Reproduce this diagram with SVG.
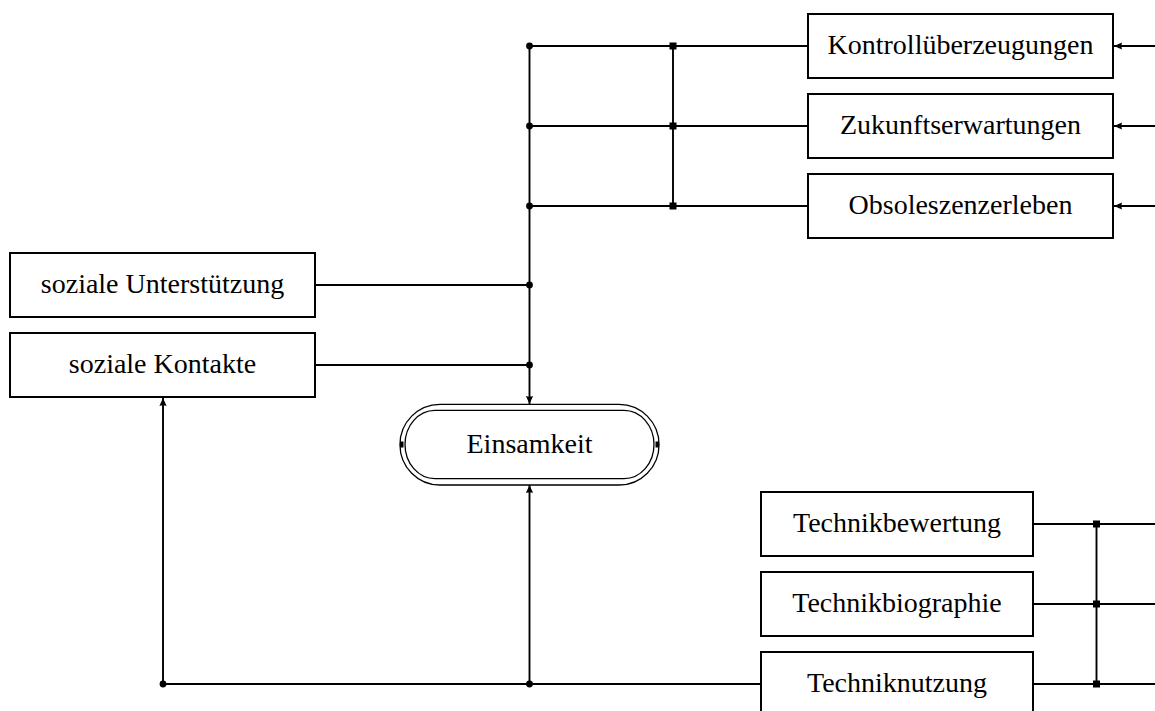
<svg xmlns="http://www.w3.org/2000/svg" width="1155" height="711" viewBox="0 0 1155 711">
  <style>
    .box { fill: #fff; stroke: #000; stroke-width: 2; }
    .lbl { font-size: 28px; fill: #000; text-anchor: middle; }
    .wire { fill: none; stroke: #000; stroke-width: 1.9; }
    .arr { fill: none; stroke: #000; stroke-width: 1.9; marker-end: url(#tip); }
    .dot { fill: #000; }
    .ring { fill: none; stroke: #000; stroke-width: 1.3; }
  </style>
  <defs>
    <marker id="tip" markerUnits="userSpaceOnUse" markerWidth="10" markerHeight="8" viewBox="0 -4 9 8" refX="8" refY="0" orient="auto">
      <path d="M8,0 L0,-3.6 Q1.5,0 0,3.6 Z" fill="#000"/>
    </marker>
  </defs>

  <!-- connectors -->
  <g id="connectors">
    <!-- upper bus into Einsamkeit -->
    <line class="wire" x1="529.5" y1="46" x2="808" y2="46"/>
    <line class="wire" x1="529.5" y1="126" x2="808" y2="126"/>
    <line class="wire" x1="529.5" y1="206" x2="808" y2="206"/>
    <line class="wire" x1="673" y1="46" x2="673" y2="206"/>
    <line class="wire" x1="315" y1="285" x2="529.5" y2="285"/>
    <line class="wire" x1="315" y1="365" x2="529.5" y2="365"/>
    <line class="arr" x1="529.5" y1="46" x2="529.5" y2="404"/>
    <!-- incoming arrows from the right -->
    <line class="arr" x1="1155" y1="46" x2="1114" y2="46"/>
    <line class="arr" x1="1155" y1="126" x2="1114" y2="126"/>
    <line class="arr" x1="1155" y1="206" x2="1114" y2="206"/>
    <!-- lower bus -->
    <line class="wire" x1="163" y1="684" x2="761" y2="684"/>
    <line class="arr" x1="163" y1="684" x2="163" y2="398"/>
    <line class="arr" x1="529.5" y1="684" x2="529.5" y2="485"/>
    <!-- technology group on the right -->
    <line class="wire" x1="1033" y1="524" x2="1155" y2="524"/>
    <line class="wire" x1="1033" y1="604" x2="1155" y2="604"/>
    <line class="wire" x1="1033" y1="684" x2="1155" y2="684"/>
    <line class="wire" x1="1096.5" y1="524" x2="1096.5" y2="684"/>
    <!-- junction dots -->
    <circle class="dot" cx="529.5" cy="46" r="3.4"/>
    <circle class="dot" cx="529.5" cy="126" r="3.4"/>
    <circle class="dot" cx="529.5" cy="206" r="3.4"/>
    <circle class="dot" cx="529.5" cy="285" r="3.4"/>
    <circle class="dot" cx="529.5" cy="365" r="3.4"/>
    <circle class="dot" cx="163" cy="684" r="3.4"/>
    <circle class="dot" cx="529.5" cy="684" r="3.4"/>
    <!-- junction squares -->
    <rect class="dot" x="669.5" y="42.5" width="7" height="7"/>
    <rect class="dot" x="669.5" y="122.5" width="7" height="7"/>
    <rect class="dot" x="669.5" y="202.5" width="7" height="7"/>
    <rect class="dot" x="1093" y="520.5" width="7" height="7"/>
    <rect class="dot" x="1093" y="600.5" width="7" height="7"/>
    <rect class="dot" x="1093" y="680.5" width="7" height="7"/>
  </g>

  <!-- nodes -->
  <g font-family="'Liberation Serif', Tinos, 'Times New Roman', 'DejaVu Serif', 'Noto Serif', serif">
    <g id="kontroll">
      <rect class="box" x="808" y="14" width="305" height="64"/>
      <text class="lbl" x="960.5" y="54">Kontrollüberzeugungen</text>
    </g>
    <g id="zukunft">
      <rect class="box" x="808" y="94" width="305" height="64"/>
      <text class="lbl" x="960.5" y="134">Zukunftserwartungen</text>
    </g>
    <g id="obsoleszenz">
      <rect class="box" x="808" y="174" width="305" height="64"/>
      <text class="lbl" x="960.5" y="214">Obsoleszenzerleben</text>
    </g>
    <g id="unterstuetzung">
      <rect class="box" x="10" y="253" width="305" height="64"/>
      <text class="lbl" x="162.5" y="293">soziale Unterstützung</text>
    </g>
    <g id="kontakte">
      <rect class="box" x="10" y="333" width="305" height="64"/>
      <text class="lbl" x="162.5" y="373">soziale Kontakte</text>
    </g>
    <g id="einsamkeit">
      <path class="ring" d="M440,404.3 H619 A40,40.3 0 0 1 619,485 H440 A40,40.3 0 0 1 440,404.3 Z"/>
      <path class="ring" d="M435,410.3 H624 A30,34.2 0 0 1 624,478.7 H435 A30,34.2 0 0 1 435,410.3 Z"/>
      <rect class="dot" x="400" y="441.5" width="3.5" height="6"/>
      <rect class="dot" x="655.5" y="441.5" width="3.5" height="6"/>
      <text class="lbl" x="529.5" y="453">Einsamkeit</text>
    </g>
    <g id="bewertung">
      <rect class="box" x="761" y="492" width="272" height="64"/>
      <text class="lbl" x="897" y="532">Technikbewertung</text>
    </g>
    <g id="biographie">
      <rect class="box" x="761" y="572" width="272" height="64"/>
      <text class="lbl" x="897" y="612">Technikbiographie</text>
    </g>
    <g id="nutzung">
      <rect class="box" x="761" y="652" width="272" height="64"/>
      <text class="lbl" x="897" y="692">Techniknutzung</text>
    </g>
  </g>
</svg>
